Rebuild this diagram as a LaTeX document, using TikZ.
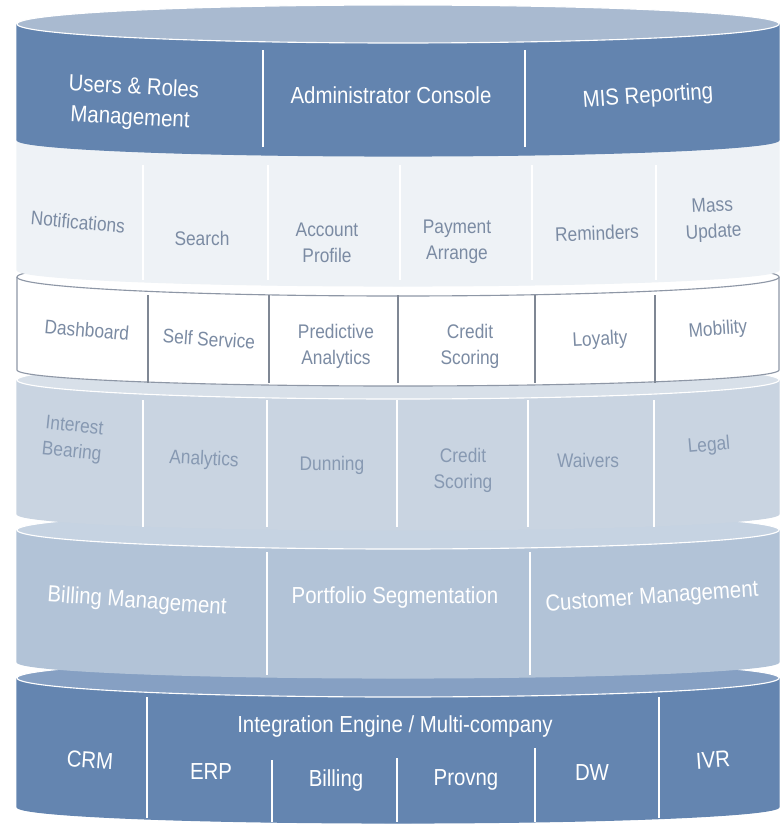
\documentclass[tikz,border=0pt]{standalone}
\usepackage{fontspec}
\setmainfont{Liberation Sans}[FakeStretch=0.88]
\definecolor{bandA}{HTML}{6384AF}
\definecolor{bandAtop}{HTML}{A9BAD0}
\definecolor{bandB}{HTML}{EEF2F6}
\definecolor{bandD}{HTML}{C9D4E1}
\definecolor{bandDtop}{HTML}{D8E0E9}
\definecolor{bandE}{HTML}{B2C3D7}
\definecolor{bandEtop}{HTML}{C6D3E2}
\definecolor{bandF}{HTML}{6485B0}
\definecolor{bandFtop}{HTML}{86A0C3}
\definecolor{edgegrey}{HTML}{8E97A6}
\definecolor{linegrey}{HTML}{7F8794}
\definecolor{textgrey}{HTML}{7B8BA3}
\definecolor{textpale}{HTML}{8799B2}
% one disc of the stack: top, bottom, front fill, top fill, front outline, top outline
\newcommand{\drawband}[6]{%
  \filldraw[fill=#3, draw=#5, line width=0.8pt] (17,#1) -- (17,#2) arc[start angle=180, end angle=0, x radius=381, y radius=16] -- (779,#1);
  \filldraw[fill=#4, draw=#6, line width=0.8pt] (398,#1) ellipse[x radius=381, y radius=19];}
\begin{document}
\begin{tikzpicture}[x=0.25mm, y=-0.25mm,
  big/.style={font=\fontsize{16.5}{21}\selectfont, text=white, align=center, inner sep=0pt},
  small/.style={font=\fontsize{14}{18.5}\selectfont, align=center, inner sep=0pt},
  divider/.style={line width=1pt}]
\useasboundingbox (0,0) rectangle (782,826);

% bottom disc
\drawband{678}{807}{bandF}{bandFtop}{bandF}{white}
\foreach \x in {147,659} \draw[divider, white] (\x,697) -- (\x,818);
\foreach \x/\y in {272/760,397/758,535/748} \draw[divider, white] (\x,\y) -- (\x,822);
\begin{scope}[every node/.style={big}]
\node (integ) at (395,726) {Integration Engine / Multi-company};
\node[rotate=-4] (crm) at (90,760) {CRM};
\node (erp) at (211,772) {ERP};
\node (billing) at (336,780) {Billing};
\node (provng) at (466,780) {Provng};
\node (dw) at (592,773) {DW};
\node[rotate=4] (ivr) at (713,760) {IVR};
\end{scope}

% fifth disc
\drawband{530}{662}{bandE}{bandEtop}{bandE}{white}
\foreach \x in {267,530} \draw[divider, white] (\x,552) -- (\x,675);
\begin{scope}[every node/.style={big}]
\node[rotate=-4] (billmgmt) at (137,602) {Billing Management};
\node (portfolio) at (395,597) {Portfolio Segmentation};
\node[rotate=4] (custmgmt) at (652,598) {Customer Management};
\end{scope}

% fourth disc
\drawband{380}{514}{bandD}{bandDtop}{bandD}{white}
\foreach \x in {143,267,397,528,654} \draw[divider, white] (\x,400) -- (\x,527);
\begin{scope}[every node/.style={small, text=textpale}]
\node[rotate=-6] (interest) at (73,440) {Interest\\Bearing};
\node[rotate=-3] (analytics) at (204,460) {Analytics};
\node (dunning) at (332,465) {Dunning};
\node (credit2) at (463,470) {Credit\\Scoring};
\node (waivers) at (588,460) {Waivers};
\node[rotate=5] (legal) at (709,446) {Legal};
\end{scope}

% third disc
\drawband{277}{370}{white}{white}{edgegrey}{edgegrey}
\foreach \x in {148,269,398,535,655} \draw[divider, linegrey] (\x,295) -- (\x,383);
\begin{scope}[every node/.style={small, text=textgrey}]
\node[rotate=-5] (dash) at (87,330) {Dashboard};
\node[rotate=-4] (self) at (209,339) {Self Service};
\node (predict) at (336,346) {Predictive\\Analytics};
\node (credit1) at (470,346) {Credit\\Scoring};
\node[rotate=3] (loyalty) at (600,340) {Loyalty};
\node[rotate=4] (mobility) at (718,330) {Mobility};
\end{scope}

% second disc
\drawband{140}{270}{bandB}{bandB}{bandB}{bandB}
\foreach \x in {143,268,400,532,656} \draw[divider, white] (\x,165) -- (\x,280);
\begin{scope}[every node/.style={small, text=textgrey}]
\node[rotate=-5] (notif) at (78,222) {Notifications};
\node (search) at (202,238) {Search};
\node (account) at (327,243) {Account\\Profile};
\node (payment) at (457,242) {Payment\\Arrange};
\node[rotate=2] (remind) at (597,233) {Reminders};
\node[rotate=3] (mass) at (713,220) {Mass\\Update};
\end{scope}

% top disc
\drawband{24}{140}{bandA}{bandAtop}{bandA}{white}
\foreach \x in {263,525} \draw[divider, white] (\x,50) -- (\x,147);
\begin{scope}[every node/.style={big}]
\node[rotate=-3] (users) at (134,86) {Users \& Roles};
\node[rotate=-3] (usersb) at (130,119) {Management};
\node (admin) at (391,95) {Administrator Console};
\node[rotate=4] (mis) at (648,97) {MIS Reporting};
\end{scope}
\end{tikzpicture}
\end{document}
